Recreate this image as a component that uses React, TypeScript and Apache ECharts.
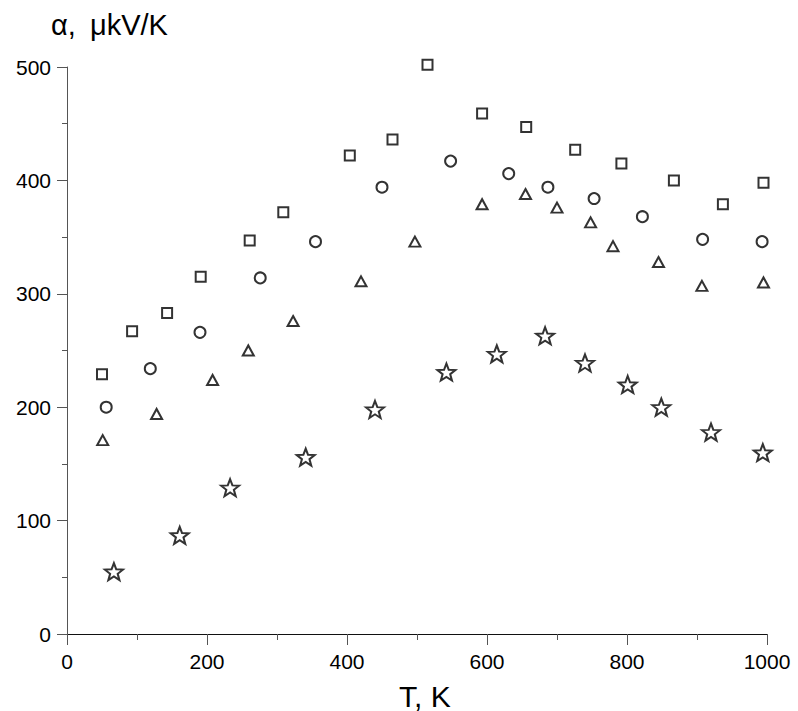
import React, { useEffect, useRef } from "react";
import * as echarts from "echarts";

const xTicks = [0, 200, 400, 600, 800, 1000];
const yTicks = [0, 100, 200, 300, 400, 500];

const squareT = [50, 93, 143, 191, 261, 309, 404, 465, 515, 593, 656, 726, 792, 867, 937, 995];
const squareA = [229, 267, 283, 315, 347, 372, 422, 436, 502, 459, 447, 427, 415, 400, 379, 398];

const circleT = [56, 119, 190, 276, 355, 450, 548, 631, 687, 753, 822, 908, 993];
const circleA = [200, 234, 266, 314, 346, 394, 417, 406, 394, 384, 368, 348, 346];

const triangleT = [51, 128, 208, 259, 323, 420, 497, 593, 655, 700, 748, 780, 845, 907, 995];
const triangleA = [171, 194, 224, 250, 276, 311, 346, 379, 388, 376, 363, 342, 328, 307, 310];

const starT = [67, 161, 233, 341, 440, 542, 614, 683, 740, 801, 849, 920, 994];
const starA = [55, 87, 129, 156, 198, 231, 247, 263, 239, 220, 200, 178, 160];

const yTitleSymbol = "α,";
const yTitleUnit = "μkV/K";
const xTitle = "T, K";

function starPath(): string {
  const pts: string[] = [];
  for (let i = 0; i < 10; i++) {
    const r = i % 2 === 0 ? 50 : 21;
    const ang = (-90 + i * 36) * (Math.PI / 180);
    const x = 50 + r * Math.cos(ang);
    const y = 50 + r * Math.sin(ang);
    pts.push((i === 0 ? "M" : "L") + x.toFixed(2) + " " + y.toFixed(2));
  }
  return "path://" + pts.join(" ") + " Z";
}

function pairs(xs: number[], ys: number[]) {
  return xs.map((x, i) => [x, ys[i]]);
}

export default function App() {
  const ref = useRef<HTMLDivElement>(null);
  useEffect(() => {
    if (!ref.current) return;
    const chart = echarts.init(ref.current, null, { renderer: "svg" });
    const font = "'Liberation Sans', Arial, sans-serif";
    const markerStyle = { color: "#ffffff", borderColor: "#000000", borderWidth: 2 };
    chart.setOption({
      animation: false,
      backgroundColor: "#ffffff",
      grid: { left: 67, right: 31, top: 67, bottom: 77 },
      xAxis: {
        type: "value",
        min: 0,
        max: 1000,
        interval: 200,
        axisLine: { show: true, onZero: false, lineStyle: { color: "#111", width: 1 } },
        axisTick: { show: true, length: 11, lineStyle: { color: "#555" } },
        minorTick: { show: true, splitNumber: 2, length: 6, lineStyle: { color: "#555" } },
        splitLine: { show: false },
        axisLabel: {
          color: "#000",
          fontSize: 21,
          fontFamily: font,
          margin: 17,
          formatter: (v: number) => (xTicks.includes(v) ? String(v) : ""),
        },
      },
      yAxis: {
        type: "value",
        min: 0,
        max: 500,
        interval: 100,
        axisLine: { show: true, onZero: false, lineStyle: { color: "#555", width: 1 } },
        axisTick: { show: true, length: 10, lineStyle: { color: "#555" } },
        minorTick: { show: true, splitNumber: 2, length: 5, lineStyle: { color: "#555" } },
        splitLine: { show: false },
        axisLabel: {
          color: "#000",
          fontSize: 21,
          fontFamily: font,
          margin: 16,
          formatter: (v: number) => (yTicks.includes(v) ? String(v) : ""),
        },
      },
      graphic: [
        {
          type: "text",
          left: 51,
          top: 10,
          style: { text: yTitleSymbol, fontSize: 29, fontFamily: font, fill: "#000" },
        },
        {
          type: "text",
          left: 90,
          top: 10,
          style: { text: yTitleUnit, fontSize: 29, fontFamily: font, fill: "#000" },
        },
        {
          type: "text",
          left: 399,
          top: 681,
          style: { text: xTitle, fontSize: 30, fontFamily: font, fill: "#000" },
        },
      ],
      series: [
        {
          type: "scatter",
          symbol: "rect",
          symbolSize: 10,
          clip: false,
          data: pairs(squareT, squareA),
          itemStyle: markerStyle,
        },
        {
          type: "scatter",
          symbol: "circle",
          symbolSize: 11,
          clip: false,
          data: pairs(circleT, circleA),
          itemStyle: markerStyle,
        },
        {
          type: "scatter",
          symbol: "triangle",
          symbolSize: [11, 10],
          clip: false,
          data: pairs(triangleT, triangleA),
          itemStyle: markerStyle,
        },
        {
          type: "scatter",
          symbol: starPath(),
          symbolSize: [18, 17],
          clip: false,
          data: pairs(starT, starA),
          itemStyle: markerStyle,
        },
      ],
    });
    return () => chart.dispose();
  }, []);
  return (
    <div
      ref={ref}
      style={{ position: "fixed", left: 0, top: 0, width: 798, height: 711 }}
    />
  );
}
